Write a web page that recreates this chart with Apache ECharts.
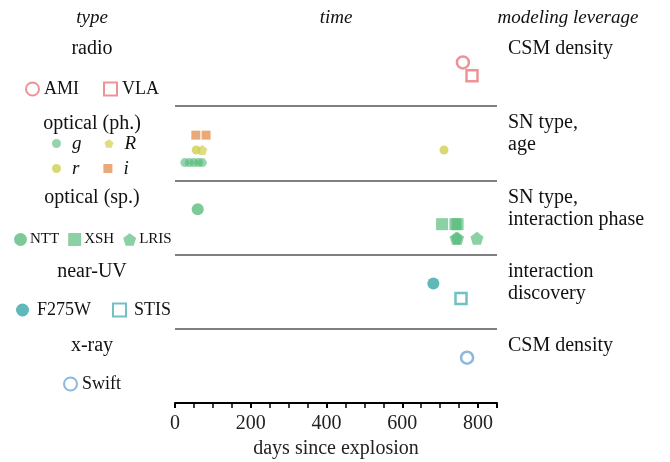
<!DOCTYPE html>
<html>
<head>
<meta charset="utf-8">
<script src="https://cdn.jsdelivr.net/npm/echarts@6/dist/echarts.min.js"></script>
<style>
html, body { margin: 0; padding: 0; background: #fff; }
#chart { width: 670px; height: 462px; }
</style>
</head>
<body>
<div id="chart"></div>
<script>
// 观测时间（爆炸后天数）
const amiDays = [760]
const vlaDays = [784]
const gDays = [26, 38, 50, 62, 72]
const RDays = [72]
const rDays = [56, 710]
const iDays = [55, 82]
const nttDays = [60]
const xshDays = [705, 740, 746]
const lrisDays = [742, 746, 797]
const f275wDays = [682]
const stisDays = [755]
const swiftDays = [771]

// 面板名称与建模作用
const panelNames = ['radio', 'optical (ph.)', 'optical (sp.)', 'near-UV', 'x-ray']
const leverage = ['CSM density', 'SN type,\nage', 'SN type,\ninteraction phase', 'interaction\ndiscovery', 'CSM density']
const xTicks = [0, 200, 400, 600, 800]

const serif = 'Liberation Serif'
const pentagon = 'path://M0,-1 L0.951,-0.309 L0.588,0.809 L-0.588,0.809 L-0.951,-0.309 Z'

const chart = echarts.init(document.getElementById('chart'), null, {renderer: 'canvas'})

// 每个仪器在面板中的纵向位置 (0 = 顶部, 5 = 底部)
function pts (days, row) {
    return days.map(d => [d, row])
}

function scatter (name, days, row, symbol, size, color, hollow, opacity) {
    return {
        name: name,
        type: 'scatter',
        symbol: symbol,
        symbolSize: size,
        data: pts(days, row),
        itemStyle: hollow ? {
            color: '#fff',
            borderColor: color,
            borderWidth: 2.5
        } : {
            color: color,
            opacity: opacity || 0.75
        },
        emphasis: {disabled: true}
    }
}

const red = '#e8787c'
const green = '#4fb874'
const yellow = '#d0cf50'
const orange = '#e89a62'
const teal = '#4fb0b0'
const blue = '#6ea6d6'

const series = [
    scatter('AMI', amiDays, 0.41, 'circle', 12, red, true),
    scatter('VLA', vlaDays, 0.59, 'rect', 11, red, true),
    scatter('i', iDays, 1.39, 'rect', 9, orange, false, 0.85),
    scatter('R', RDays, 1.59, pentagon, 10, yellow, false, 0.7),
    scatter('r', rDays, 1.59, 'circle', 9, yellow, false, 0.8),
    scatter('g', gDays, 1.76, 'circle', 9, green, false, 0.6),
    scatter('NTT', nttDays, 2.39, 'circle', 12, green, false, 0.75),
    scatter('XSH', xshDays, 2.59, 'rect', 12, green, false, 0.65),
    scatter('LRIS', lrisDays, 2.78, pentagon, 13, green, false, 0.65),
    scatter('F275W', f275wDays, 3.39, 'circle', 12, teal, false, 0.9),
    scatter('STIS', stisDays, 3.59, 'rect', 11, teal, true),
    scatter('Swift', swiftDays, 4.39, 'circle', 12, blue, true)
]

// 分隔线
series.push({
    type: 'line',
    data: [],
    silent: true,
    markLine: {
        symbol: 'none',
        silent: true,
        label: {show: false},
        lineStyle: {color: '#7f7f7f', width: 2, type: 'solid'},
        data: [1, 2, 3, 4].map(v => ({yAxis: v}))
    }
})

const legendText = {fontFamily: serif, fontSize: 18, color: '#111'}
const smallText = {fontFamily: serif, fontSize: 15, color: '#111', padding: [0, 0, 0, -2]}
const italicText = {fontFamily: serif, fontSize: 19, color: '#111', fontStyle: 'italic', padding: [0, 0, 0, 6]}

const legends = [
    {data: ['AMI', 'VLA'], left: 25, top: 80, itemWidth: 13, itemHeight: 13, itemGap: 24, textStyle: legendText},
    {data: ['g', 'R'], left: 52, top: 134, itemWidth: 9, itemHeight: 9, itemGap: 23, textStyle: italicText},
    {data: ['r', 'i'], left: 52, top: 159, itemWidth: 9, itemHeight: 9, itemGap: 24, textStyle: italicText},
    {data: ['NTT', 'XSH', 'LRIS'], left: 14, top: 232, itemWidth: 13, itemHeight: 13, itemGap: 9, textStyle: smallText},
    {data: ['F275W', 'STIS'], left: 16, top: 301, itemWidth: 13, itemHeight: 13, itemGap: 21, textStyle: Object.assign({}, legendText, {padding: [0, 0, 0, 3]})},
    {data: ['Swift'], left: 63, top: 375, itemWidth: 13, itemHeight: 13, textStyle: legendText}
].map(l => Object.assign({orient: 'horizontal', selectedMode: false, padding: 0}, l))

const graphics = []
const headers = [['type', 92], ['time', 336], ['modeling leverage', 568]]
headers.forEach(h => {
    graphics.push({
        type: 'text', x: h[1], y: 18,
        style: {text: h[0], font: 'italic 19px "Liberation Serif"', fill: '#111', align: 'center', verticalAlign: 'middle'}
    })
})

const option = {
    animation: false,
    backgroundColor: '#fff',
    grid: {left: 175, right: 173, top: 32, bottom: 59, outerBoundsMode: 'none', containLabel: false},
    legend: legends,
    xAxis: {
        type: 'value',
        min: 0,
        max: 850,
        interval: 200,
        axisLine: {onZero: false, lineStyle: {color: '#000', width: 2}},
        axisTick: {length: 5, lineStyle: {color: '#000', width: 2}},
        minorTick: {show: true, splitNumber: 4, length: 5, lineStyle: {color: '#000', width: 1.5}},
        splitLine: {show: false},
        axisLabel: {
            fontFamily: serif, fontSize: 20, color: '#222', margin: 11,
            showMaxLabel: false,
            formatter: v => xTicks.indexOf(v) >= 0 ? String(v) : ''
        },
        name: 'days since explosion',
        nameLocation: 'middle',
        nameGap: 36,
        nameTextStyle: {fontFamily: serif, fontSize: 20, color: '#222'}
    },
    yAxis: {
        type: 'value',
        min: 0,
        max: 5,
        inverse: true,
        show: false
    },
    graphic: graphics,
    series: series
}
chart.setOption(option)

// 面板标题与右侧说明（按坐标轴换算位置）
const extra = []
panelNames.forEach((n, i) => {
    const y = chart.convertToPixel({yAxisIndex: 0}, i + 0.23)
    extra.push({
        type: 'text', x: 92, y: y,
        style: {text: n, font: '20px "Liberation Serif"', fill: '#111', align: 'center', verticalAlign: 'middle'}
    })
})
leverage.forEach((n, i) => {
    const y = chart.convertToPixel({yAxisIndex: 0}, i + 0.08)
    extra.push({
        type: 'text', x: 508, y: y,
        style: {text: n, font: '20px "Liberation Serif"', fill: '#111', lineHeight: 22, align: 'left', verticalAlign: 'top'}
    })
})
chart.setOption({graphic: graphics.concat(extra)})
</script>
</body>
</html>
